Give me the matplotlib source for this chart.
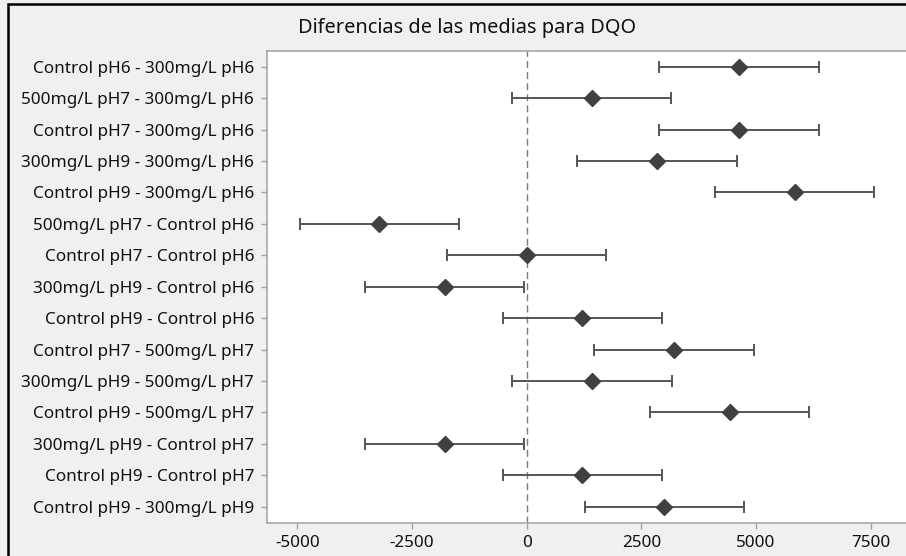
import matplotlib
matplotlib.use("Agg")
import matplotlib.pyplot as plt
from matplotlib.patches import Rectangle

plt.rcParams['font.family'] = ['Noto Sans', 'DejaVu Sans']

# comparisons, top to bottom
labels = [
    "Control pH6 - 300mg/L pH6",
    "500mg/L pH7 - 300mg/L pH6",
    "Control pH7 - 300mg/L pH6",
    "300mg/L pH9 - 300mg/L pH6",
    "Control pH9 - 300mg/L pH6",
    "500mg/L pH7 - Control pH6",
    "Control pH7 - Control pH6",
    "300mg/L pH9 - Control pH6",
    "Control pH9 - Control pH6",
    "Control pH7 - 500mg/L pH7",
    "300mg/L pH9 - 500mg/L pH7",
    "Control pH9 - 500mg/L pH7",
    "300mg/L pH9 - Control pH7",
    "Control pH9 - Control pH7",
    "Control pH9 - 300mg/L pH9",
]
diffs = [4630, 1417, 4630, 2842, 5843, -3213, 0, -1788, 1213, 3213, 1425, 4426, -1788, 1213, 3001]
lower = [2893, -318, 2893, 1105, 4106, -4950, -1737, -3525, -524, 1476, -312, 2689, -3525, -524, 1264]
upper = [6367, 3152, 6367, 4579, 7580, -1476, 1737, -51, 2950, 4950, 3162, 6163, -51, 2950, 4738]
xticks = [-5000, -2500, 0, 2500, 5000, 7500]
title = "Diferencias de las medias para DQO"

bg = "#f0f0f0"
fig = plt.figure(figsize=(9.06, 5.56), dpi=100, facecolor=bg)
ax = fig.add_axes([0.2944, 0.0594, 0.7056, 0.8494])
ax.set_facecolor("white")

ypos = list(range(1, len(labels) + 1))
err_lo = [d - l for d, l in zip(diffs, lower)]
err_hi = [u - d for d, u in zip(diffs, upper)]

ax.axvline(0, color="#7a7a7a", lw=1.0, ls=(0, (5, 3)), zorder=1)
ax.errorbar(diffs, ypos, xerr=[err_lo, err_hi], fmt="D", color="#404040",
            ecolor="#555555", elinewidth=1.4, capsize=4.5, capthick=1.4,
            markersize=8, zorder=3)

ax.set_xlim(-5667, 8267)
ax.set_ylim(15.52, 0.49)
ax.set_yticks(ypos)
ax.set_yticklabels(labels)
ax.set_xticks(xticks)
ax.set_xticklabels([str(v) for v in xticks])

for s in ["left", "bottom", "top"]:
    ax.spines[s].set_color("#a8a8a8")
    ax.spines[s].set_linewidth(1.2)
ax.spines["right"].set_visible(False)
ax.tick_params(axis="both", colors="#a0a0a0", length=4, width=1,
               labelcolor="#111111", labelsize=12.3)
ax.tick_params(axis="y", pad=5)
ax.tick_params(axis="x", pad=5)

fig.text(0.515, 0.950, title, ha="center", va="center", fontsize=14.4, color="#111111")

fig.patches.append(Rectangle((8 / 906, -0.1), 1.2, (1 - 4 / 556) + 0.1,
                             transform=fig.transFigure, fill=False,
                             edgecolor="black", lw=1.8))

fig.savefig("out.png", dpi=100, facecolor=bg)
